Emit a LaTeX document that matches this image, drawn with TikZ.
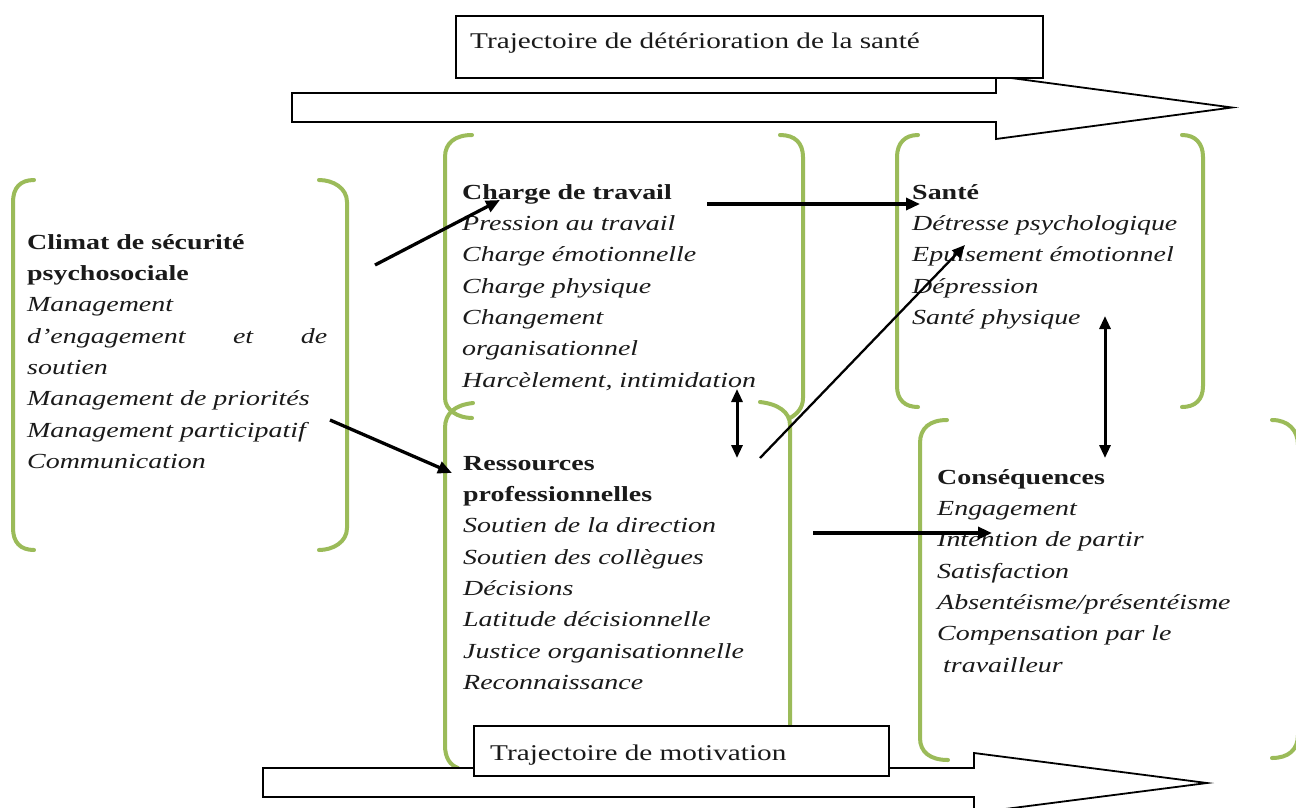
\documentclass[tikz,border=0pt]{standalone}
\usepackage{fontspec}
\setmainfont{Liberation Serif}
\newfontfamily\bodyfont[FakeStretch=1.3]{Liberation Serif}
\newfontfamily\titlefont[FakeStretch=1.3]{Liberation Serif}
\usetikzlibrary{arrows.meta}
\definecolor{brkgreen}{HTML}{9BBB59}
\definecolor{txt}{HTML}{1A1A1A}
\newcommand\hd[1]{{\upshape\bfseries #1}}
\begin{document}
\begin{tikzpicture}[x=1pt,y=-1pt,
  brk/.style={draw=brkgreen, line width=4pt, line cap=round},
  blockarrow/.style={draw=black, line width=1.8pt, fill=white, line join=miter},
  titlebox/.style={draw=black, line width=1.8pt, fill=white, anchor=north west, inner sep=0pt},
  titletext/.style={anchor=base west, inner sep=0pt, text=txt, font=\titlefont\fontsize{22.5}{27}\selectfont},
  grp/.style={anchor=north west, inner sep=0pt, align=left, text=txt, font=\bodyfont\itshape\fontsize{21.5}{31.3}\selectfont},
  conn/.style={draw=black, line width=3.3pt, -{Triangle[length=14pt,width=12pt]}},
  thinconn/.style={draw=black, line width=2.3pt, -{Triangle[length=13pt,width=11pt]}},
  dbl/.style={draw=black, line width=3pt, {Triangle[length=13pt,width=11pt]}-{Triangle[length=13pt,width=11pt]}}
]
\clip (0,0) rectangle (1296,807);
\fill[white] (0,0) rectangle (1296,807);

% green brackets
% Climat
\draw[brk] (34,180) .. controls (20,180) and (13,188) .. (13,202) -- (13,528) .. controls (13,542) and (20,550) .. (34,550);
\draw[brk] (319,180) .. controls (333,180) and (347,188) .. (347,202) -- (347,528) .. controls (347,542) and (333,550) .. (319,550);
% Charge de travail
\draw[brk] (472,135) .. controls (455,135) and (445,143) .. (445,157) -- (445,398) .. controls (445,410) and (458,418) .. (472,418);
\draw[brk] (780,135) .. controls (795,135) and (803,143) .. (803,157) -- (803,398) .. controls (803,408) and (797,414) .. (790,418);
% Ressources
\draw[brk] (473,403) .. controls (455,405) and (445,413) .. (445,428) -- (445,745) .. controls (445,758) and (450,765) .. (458,768);
\draw[brk] (760,402) .. controls (778,404) and (790,412) .. (790,425) -- (790,730);
% Sante
\draw[brk] (918,135) .. controls (905,135) and (897,143) .. (897,157) -- (897,386) .. controls (897,400) and (905,407) .. (918,407);
\draw[brk] (1182,135) .. controls (1195,135) and (1203,143) .. (1203,157) -- (1203,386) .. controls (1203,400) and (1195,407) .. (1182,407);
% Consequences
\draw[brk] (947,420) .. controls (930,420) and (920,428) .. (920,443) -- (920,738) .. controls (920,752) and (930,760) .. (948,760);
\draw[brk] (1272,420) .. controls (1288,420) and (1298,430) .. (1298,445) -- (1298,735) .. controls (1298,750) and (1288,758) .. (1272,758);

% block arrows and title boxes
\draw[blockarrow] (292,93) -- (996,93) -- (996,76) -- (1232,107.5) -- (996,139) -- (996,122) -- (292,122) -- cycle;
\node[titlebox, minimum width=587pt, minimum height=62pt] (topbox) at (455,15) {};
\node[titletext] (toptitle) at (470,48) {Trajectoire de détérioration de la santé};

\draw[blockarrow] (263,768) -- (974,768) -- (974,753) -- (1207,783) -- (974,813) -- (974,797) -- (263,797) -- cycle;
\node[titlebox, minimum width=415pt, minimum height=50pt] (botbox) at (473,725) {};
\node[titletext] (bottitle) at (490,760) {Trajectoire de motivation};

% texts
\node[grp] (climat) at (27,227) {\rule{0pt}{22pt}\hd{Climat de sécurité}\\\hd{psychosociale}\\Management\\\hbox to 300pt{d’engagement\hfill et\hfill de}\\soutien\\Management de priorités\\Management participatif\\Communication};

\node[grp] (charge) at (462,177) {\rule{0pt}{22pt}\hd{Charge de travail}\\Pression au travail\\Charge émotionnelle\\Charge physique\\Changement\\organisationnel\\Harcèlement, intimidation};

\node[grp] (sante) at (912,177) {\rule{0pt}{22pt}\hd{Santé}\\Détresse psychologique\\Epuisement émotionnel\\Dépression\\Santé physique};

\node[grp] (ress) at (463,448) {\rule{0pt}{22pt}\hd{Ressources}\\\hd{professionnelles}\\Soutien de la direction\\Soutien des collègues\\Décisions\\Latitude décisionnelle\\Justice organisationnelle\\Reconnaissance};

\node[grp] (cons) at (937,462) {\rule{0pt}{22pt}\hd{Conséquences}\\Engagement\\Intention de partir\\Satisfaction\\Absentéisme/présentéisme\\Compensation par le\\\hspace*{6pt}travailleur};

% connector end points
\coordinate (c1s) at (375,265);
\coordinate (c1e) at (500,200);
\coordinate (c2s) at (330,420);
\coordinate (c2e) at (452,473);
\coordinate (c3s) at (707,204);
\coordinate (c3e) at (920,204);
\coordinate (c4s) at (760,458);
\coordinate (c4e) at (965,245);
\coordinate (c5s) at (737,389);
\coordinate (c5e) at (737,458);
\coordinate (c6s) at (1105,316);
\coordinate (c6e) at (1105,458);
\coordinate (c7s) at (813,533);
\coordinate (c7e) at (992,533);

\draw[conn] (c1s) -- (c1e);
\draw[conn] (c2s) -- (c2e);
\draw[conn] (c3s) -- (c3e);
\draw[thinconn] (c4s) -- (c4e);
\draw[dbl] (c5s) -- (c5e);
\draw[dbl] (c6s) -- (c6e);
\draw[conn] (c7s) -- (c7e);
\end{tikzpicture}
\end{document}
